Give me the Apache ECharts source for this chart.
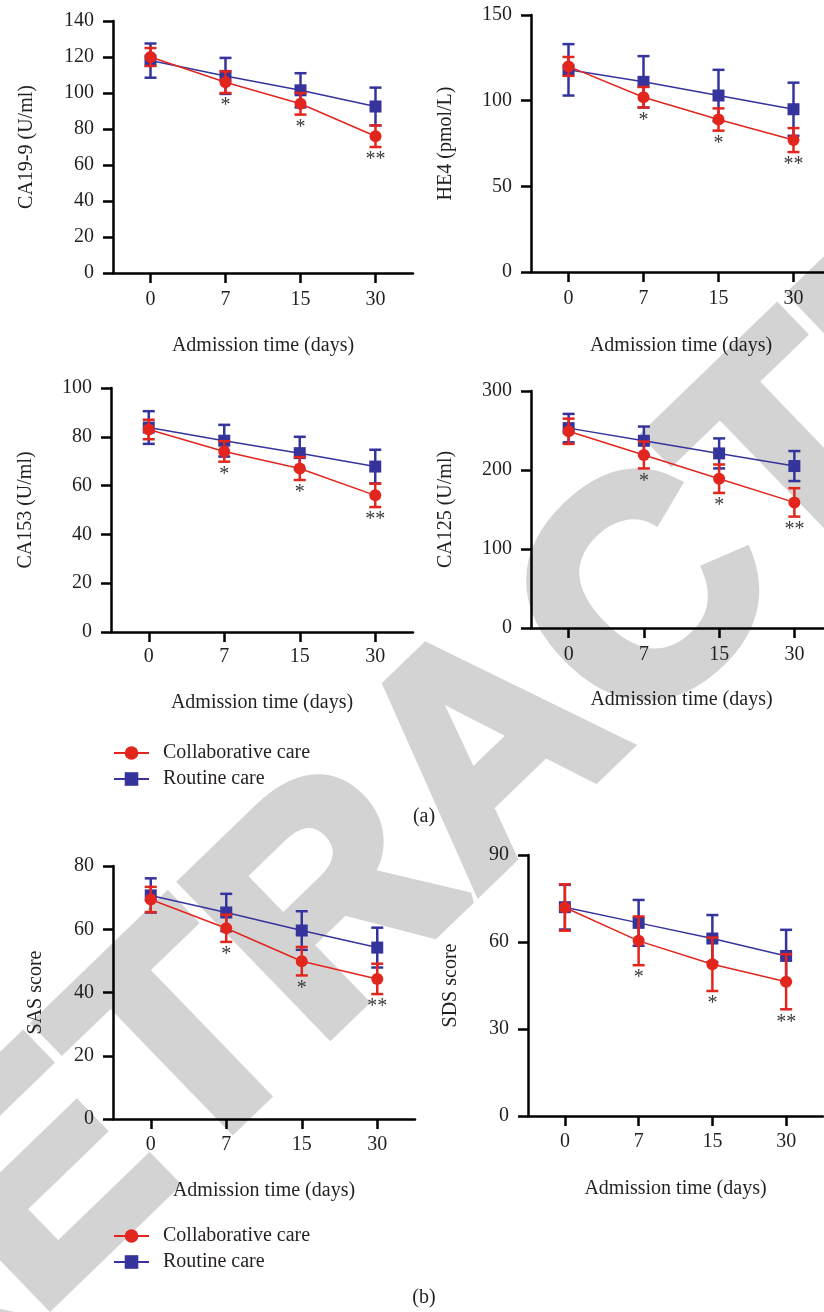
<!DOCTYPE html>
<html>
<head>
<meta charset="utf-8">
<script src="https://cdn.jsdelivr.net/npm/echarts@6/dist/echarts.min.js"></script>
<style>
html, body { margin: 0; padding: 0; background: #fff; }
#main { width: 824px; height: 1312px; }
</style>
</head>
<body>
<div id="main"></div>
<script>
var dom = document.getElementById('main');
var myChart = echarts.init(dom);

// x categories and significance marks
var days = ['0', '7', '15', '30'];
var sig = ['', '*', '*', '**'];

// CA19-9 (U/ml)
var ca199Collab = [120, 106, 94, 76];
var ca199CollabSd = [5, 6, 6, 6];
var ca199Routine = [118, 109.5, 101.5, 92.5];
var ca199RoutineSd = [9.5, 10, 9.5, 10.5];

// HE4 (pmol/L)
var he4Collab = [120, 102, 89, 77];
var he4CollabSd = [5.5, 6, 6.5, 7];
var he4Routine = [118, 111, 103, 95];
var he4RoutineSd = [15, 15, 15, 15.5];

// CA153 (U/ml)
var ca153Collab = [83, 74, 67, 56];
var ca153CollabSd = [4, 4.2, 4.7, 4.8];
var ca153Routine = [83.8, 78.4, 73.3, 67.8];
var ca153RoutineSd = [6.7, 6.5, 6.7, 6.9];

// CA125 (U/ml)
var ca125Collab = [249, 219, 189, 159];
var ca125CollabSd = [16, 17, 18, 18];
var ca125Routine = [253, 237, 221, 205];
var ca125RoutineSd = [18, 18, 19, 19];

// SAS score
var sasCollab = [69.4, 60.3, 49.9, 44.3];
var sasCollabSd = [4, 4.3, 4.5, 4.8];
var sasRoutine = [70.7, 65.3, 59.6, 54.2];
var sasRoutineSd = [5.4, 5.9, 6.1, 6.3];

// SDS score
var sdsCollab = [71.9, 60.4, 52.3, 46.3];
var sdsCollabSd = [8, 8.4, 9.2, 9.5];
var sdsRoutine = [72, 66.6, 61.2, 55.2];
var sdsRoutineSd = [7.7, 7.9, 8.1, 9];

var RED = '#e2261e';
var BLUE = '#34349c';
var TEXT = '#231f20';
var FONT = '"Liberation Serif", "Times New Roman", serif';

var panels = [
    {name: 'CA19-9 (U/ml)', max: 140, interval: 20, c: ca199Collab, cs: ca199CollabSd, r: ca199Routine, rs: ca199RoutineSd,
        grid: {left: 113, top: 21, width: 300, height: 252}, yGap: 76, xGap: 63, xMargin: 17},
    {name: 'HE4 (pmol/L)', max: 150, interval: 50, c: he4Collab, cs: he4CollabSd, r: he4Routine, rs: he4RoutineSd,
        grid: {left: 531, top: 15, width: 300, height: 257}, yGap: 75, xGap: 64, xMargin: 17},
    {name: 'CA153 (U/ml)', max: 100, interval: 20, c: ca153Collab, cs: ca153CollabSd, r: ca153Routine, rs: ca153RoutineSd,
        grid: {left: 111, top: 388, width: 302, height: 244}, yGap: 75, xGap: 61, xMargin: 15},
    {name: 'CA125 (U/ml)', max: 300, interval: 100, c: ca125Collab, cs: ca125CollabSd, r: ca125Routine, rs: ca125RoutineSd,
        grid: {left: 531, top: 391, width: 301, height: 237}, yGap: 75, xGap: 62, xMargin: 17},
    {name: 'SAS score', max: 80, interval: 20, c: sasCollab, cs: sasCollabSd, r: sasRoutine, rs: sasRoutineSd,
        grid: {left: 113, top: 866, width: 302, height: 253}, yGap: 67, xGap: 62, xMargin: 16},
    {name: 'SDS score', max: 90, interval: 30, c: sdsCollab, cs: sdsCollabSd, r: sdsRoutine, rs: sdsRoutineSd,
        grid: {left: 528, top: 855, width: 295, height: 261}, yGap: 67, xGap: 63, xMargin: 16}
];

function errRows(mean, sd) {
    return mean.map(function (m, i) {
        return [i, m - sd[i], m + sd[i]];
    });
}

function errorBars(color, marks) {
    return function (params, api) {
        var i = api.value(0);
        var lo = api.coord([i, api.value(1)]);
        var hi = api.coord([i, api.value(2)]);
        var w = 6;
        var st = {stroke: color, lineWidth: 2.5};
        var children = [
            {type: 'line', shape: {x1: lo[0], y1: lo[1], x2: hi[0], y2: hi[1]}, style: st},
            {type: 'line', shape: {x1: lo[0] - w, y1: lo[1], x2: lo[0] + w, y2: lo[1]}, style: st},
            {type: 'line', shape: {x1: hi[0] - w, y1: hi[1], x2: hi[0] + w, y2: hi[1]}, style: st}
        ];
        if (marks && marks[i]) {
            children.push({
                type: 'text', x: lo[0], y: lo[1] + 3,
                style: {text: marks[i], fill: '#3a3a3a', font: '20px ' + FONT,
                    align: 'center', verticalAlign: 'top', textAlign: 'center', textVerticalAlign: 'top'}
            });
        }
        return {type: 'group', children: children};
    };
}

var grids = [], xAxes = [], yAxes = [], series = [];

panels.forEach(function (p, k) {
    grids.push(Object.assign({containLabel: false, outerBoundsMode: 'none'}, p.grid));
    xAxes.push({
        gridIndex: k,
        type: 'category',
        data: days,
        boundaryGap: true,
        name: 'Admission time (days)',
        nameLocation: 'middle',
        nameGap: p.xGap,
        nameTextStyle: {fontFamily: FONT, fontSize: 20, color: TEXT},
        axisLine: {show: true, lineStyle: {color: '#000', width: 2.5}},
        axisTick: {show: true, alignWithLabel: true, length: 10, lineStyle: {color: '#000', width: 2.5}},
        axisLabel: {fontFamily: FONT, fontSize: 20, color: TEXT, margin: p.xMargin},
        splitLine: {show: false}
    });
    yAxes.push({
        gridIndex: k,
        type: 'value',
        min: 0,
        max: p.max,
        interval: p.interval,
        name: p.name,
        nameLocation: 'middle',
        nameGap: p.yGap,
        nameTextStyle: {fontFamily: FONT, fontSize: 20, color: TEXT},
        axisLine: {show: true, lineStyle: {color: '#000', width: 2.5}},
        axisTick: {show: true, length: 10, lineStyle: {color: '#000', width: 2.5}},
        axisLabel: {fontFamily: FONT, fontSize: 20, color: TEXT, margin: 19},
        splitLine: {show: false}
    });
    series.push({
        type: 'custom',
        name: 'routine-sd',
        xAxisIndex: k, yAxisIndex: k,
        renderItem: errorBars(BLUE, null),
        encode: {x: 0, y: [1, 2]},
        data: errRows(p.r, p.rs),
        z: 2
    });
    series.push({
        type: 'line',
        name: 'Routine care',
        xAxisIndex: k, yAxisIndex: k,
        data: p.r,
        symbol: 'rect',
        symbolSize: 12,
        itemStyle: {color: BLUE},
        lineStyle: {color: BLUE, width: 1.5},
        z: 3
    });
    series.push({
        type: 'custom',
        name: 'collab-sd',
        xAxisIndex: k, yAxisIndex: k,
        renderItem: errorBars(RED, sig),
        encode: {x: 0, y: [1, 2]},
        data: errRows(p.c, p.cs),
        z: 4
    });
    series.push({
        type: 'line',
        name: 'Collaborative care',
        xAxisIndex: k, yAxisIndex: k,
        data: p.c,
        symbol: 'circle',
        symbolSize: 12,
        itemStyle: {color: RED},
        lineStyle: {color: RED, width: 1.5},
        z: 5
    });
});

function legendAt(top) {
    return {
        data: ['Collaborative care', 'Routine care'],
        orient: 'vertical',
        left: 108,
        top: top,
        itemWidth: 35,
        itemHeight: 17,
        itemGap: 6,
        selectedMode: false,
        textStyle: {fontFamily: FONT, fontSize: 20, color: TEXT, padding: [0, 0, 0, 9]}
    };
}

option = {
    animation: false,
    backgroundColor: '#fff',
    grid: grids,
    xAxis: xAxes,
    yAxis: yAxes,
    legend: [legendAt(738), legendAt(1221)],
    graphic: [
        {
            type: 'text',
            x: 495, y: 757,
            rotation: 44 * Math.PI / 180,
            z: -10,
            silent: true,
            style: {text: 'RETRACTED', fill: '#d3d3d3', stroke: '#d3d3d3', lineWidth: 12,
                font: 'bold 305px "Liberation Sans", Arial, sans-serif',
                align: 'center', verticalAlign: 'middle', textAlign: 'center', textVerticalAlign: 'middle'}
        },
        {
            type: 'text', x: 424, y: 817,
            style: {text: '(a)', fill: TEXT, font: '20px ' + FONT,
                align: 'center', verticalAlign: 'middle', textAlign: 'center', textVerticalAlign: 'middle'}
        },
        {
            type: 'text', x: 424, y: 1298,
            style: {text: '(b)', fill: TEXT, font: '20px ' + FONT,
                align: 'center', verticalAlign: 'middle', textAlign: 'center', textVerticalAlign: 'middle'}
        }
    ],
    series: series
};

if (option && typeof option === 'object') {
    myChart.setOption(option, true);
}
</script>
</body>
</html>
